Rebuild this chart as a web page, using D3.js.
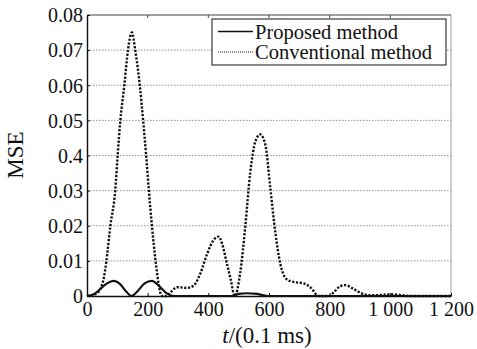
<!DOCTYPE html>
<html>
<head>
<meta charset="utf-8" />
<title>MSE comparison</title>
<style>
body { margin: 0; background: #fff; }
svg text { font-family: "Liberation Serif", "Times New Roman", serif; fill: #111; }
</style>
<script src="https://cdn.jsdelivr.net/npm/d3@7"></script>
</head>
<body>
<svg class="chart"></svg>
<script>

/* data */
var x_ticks = [0, 200, 400, 600, 800, 1000, 1200];
var x_tick_labels = ["0", "200", "400", "600", "800", "1 000", "1 200"];
var y_ticks = [0, 0.01, 0.02, 0.03, 0.04, 0.05, 0.06, 0.07, 0.08];
var y_tick_labels = ["0", "0.01", "0.02", "0.03", "0.4", "0.05", "0.06", "0.07", "0.08"];

// Proposed method (solid)
var t_proposed = [0, 22, 44, 66, 88, 110, 130, 147, 165, 190, 214, 238, 262, 285, 480, 500, 527, 560, 595, 1200];
var mse_proposed = [0, 0.0005, 0.002, 0.0036, 0.0043, 0.0033, 0.0012, 0, 0.0012, 0.0036, 0.0043, 0.0028, 0.0008, 0,
                    0, 0.0006, 0.0008, 0.0006, 0, 0];

// Conventional method (dotted)
var t_conventional = [0, 27, 44, 55, 64, 77, 93, 101, 110, 123, 135, 148, 159, 174, 185, 195, 204, 214, 226, 247, 262,
                      275, 297, 330, 352, 374, 396, 418, 434, 445, 461, 473, 487, 505, 522, 538, 555, 571, 588, 604, 621,
                      637, 659, 681, 714, 736, 764, 797, 813, 835, 852, 879, 912, 934, 970, 1000, 1030, 1066, 1200];
var mse_conventional = [0, 0.0005, 0.002, 0.005, 0.01, 0.02, 0.03, 0.04, 0.05, 0.06, 0.07, 0.075, 0.07, 0.06, 0.05,
                        0.04, 0.03, 0.02, 0.01, 0, 0,
                        0.001, 0.0025, 0.0023, 0.003, 0.0065, 0.012, 0.016, 0.0169, 0.015, 0.0093, 0.005, 0, 0.0065,
                        0.02, 0.035, 0.044, 0.046, 0.043, 0.031, 0.018,
                        0.0093, 0.0047, 0.004, 0.0036, 0.0025, 0, 0, 0.001, 0.0028, 0.0031, 0.002, 0.0005, 0.0002,
                        0.0003, 0.0005, 0.0003, 0, 0];

var series_names = ["Proposed method", "Conventional method"];

/* layout */
var width = 477, height = 349;
var margin = {left: 87, top: 15, right: 26, bottom: 53};
var plot_w = width - margin.left - margin.right;
var plot_h = height - margin.top - margin.bottom;
var serif = "'Liberation Serif', 'Times New Roman', serif";

var svg = d3.select(".chart").attr("width", width).attr("height", height);
var g = svg.append("g").attr("transform", "translate(" + margin.left + "," + margin.top + ")");

var x = d3.scaleLinear().domain([0, 1200]).range([0, plot_w]);
var y = d3.scaleLinear().domain([0, 0.08]).range([plot_h, 0]);

// horizontal grid
g.selectAll(".grid")
    .data(y_ticks.slice(1, -1))
    .enter().append("line")
    .attr("class", "grid")
    .attr("x1", 0).attr("x2", plot_w)
    .attr("y1", function(d) { return y(d); })
    .attr("y2", function(d) { return y(d); })
    .attr("stroke", "#777")
    .attr("stroke-width", 0.8)
    .attr("stroke-dasharray", "1.5,1.5");

// frame: top dark, right grey
g.append("line").attr("x1", 0).attr("x2", plot_w).attr("y1", 0).attr("y2", 0)
    .attr("stroke", "#444").attr("stroke-width", 1);
g.append("line").attr("x1", plot_w).attr("x2", plot_w).attr("y1", 0).attr("y2", plot_h)
    .attr("stroke", "#999").attr("stroke-width", 1);

// inward ticks on the top edge
g.selectAll(".ttick")
    .data(x_ticks.slice(1, -1))
    .enter().append("line")
    .attr("x1", function(d) { return x(d); })
    .attr("x2", function(d) { return x(d); })
    .attr("y1", 0).attr("y2", 3)
    .attr("stroke", "#444");

// axes
var x_axis = d3.axisBottom(x)
    .tickValues(x_ticks)
    .tickFormat(function(d, i) { return x_tick_labels[i]; })
    .tickSizeInner(-3).tickSizeOuter(0).tickPadding(6);
var y_axis = d3.axisLeft(y)
    .tickValues(y_ticks)
    .tickFormat(function(d, i) { return y_tick_labels[i]; })
    .tickSizeInner(-3).tickSizeOuter(0).tickPadding(4);

var gx = g.append("g").attr("transform", "translate(0," + plot_h + ")").call(x_axis);
var gy = g.append("g").call(y_axis);

[gx, gy].forEach(function(ax) {
  ax.attr("font-family", serif).attr("font-size", 20);
  ax.select(".domain").attr("stroke", "#111").attr("stroke-width", 1.4);
  ax.selectAll(".tick line").attr("stroke", "#111");
  ax.selectAll(".tick text")
    .style("font-family", serif)
    .style("font-size", "20px")
    .attr("fill", "#111");
});
gx.selectAll(".tick text").attr("dy", "0.71em");
gy.selectAll(".tick text").attr("dy", "0.34em");

// curves
var line = d3.line()
    .x(function(d) { return x(d[0]); })
    .y(function(d) { return y(d[1]); })
    .curve(d3.curveMonotoneX);

g.append("path")
    .datum(d3.zip(t_conventional, mse_conventional))
    .attr("d", line)
    .attr("fill", "none")
    .attr("stroke", "#111")
    .attr("stroke-width", 2.4)
    .attr("stroke-dasharray", "2.2,1.6");

g.append("path")
    .datum(d3.zip(t_proposed, mse_proposed))
    .attr("d", line)
    .attr("fill", "none")
    .attr("stroke", "#111")
    .attr("stroke-width", 2.1);

// axis titles
var xt = svg.append("text")
    .attr("x", 267).attr("y", 343)
    .attr("text-anchor", "middle")
    .attr("font-size", 23);
xt.append("tspan").attr("font-style", "italic").text("t");
xt.append("tspan").text("/(0.1 ms)");

svg.append("text")
    .attr("transform", "translate(23,155) rotate(-90)")
    .attr("text-anchor", "middle")
    .attr("font-size", 23)
    .text("MSE");

// legend
var legend = svg.append("g").attr("transform", "translate(212,19)");
legend.append("rect")
    .attr("width", 234).attr("height", 46)
    .attr("fill", "#fff").attr("stroke", "#111").attr("stroke-width", 1);

var rows = legend.selectAll(".legend")
    .data(series_names)
    .enter().append("g")
    .attr("transform", function(d, i) { return "translate(0," + (12.5 + i * 20.5) + ")"; });

rows.append("line")
    .attr("x1", 6).attr("x2", 41).attr("y1", 0).attr("y2", 0)
    .attr("stroke", "#111")
    .attr("stroke-width", function(d, i) { return i === 0 ? 1.5 : 1; })
    .attr("stroke-dasharray", function(d, i) { return i === 0 ? null : "1,1"; });

rows.append("text")
    .attr("x", 43).attr("y", 0).attr("dy", "0.35em")
    .attr("font-size", 20.5)
    .text(function(d) { return d; });

</script>
</body>
</html>
